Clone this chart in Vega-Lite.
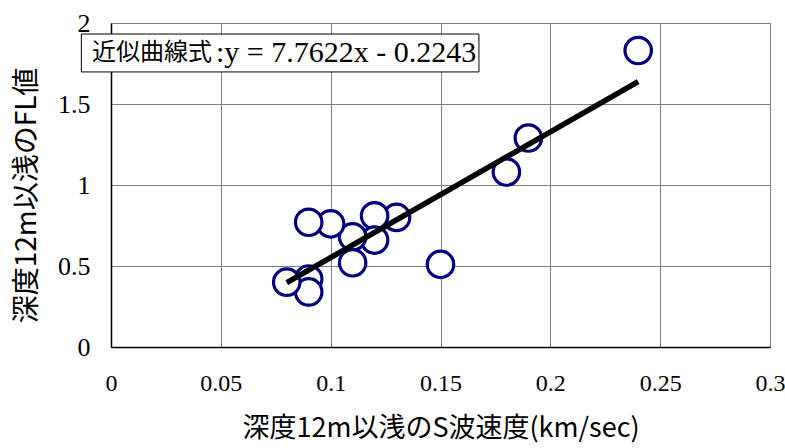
{
  "$schema": "https://vega.github.io/schema/vega-lite/v6.json",
  "width": 659,
  "height": 324,
  "autosize": "none",
  "padding": {"left": 111, "top": 23, "right": 15, "bottom": 101},
  "background": "white",
  "config": {
    "view": {"stroke": "#808080", "strokeWidth": 1},
    "axis": {
      "grid": true,
      "gridColor": "#808080",
      "gridOpacity": 1,
      "gridWidth": 1,
      "ticks": false,
      "domainColor": "#000000",
      "domainWidth": 1.5,
      "labelFont": "Liberation Serif",
      "labelFontSize": 26,
      "labelColor": "#000000",
      "labelFlush": false,
      "labelOverlap": false,
      "titleFont": "Noto Sans CJK JP",
      "titleFontWeight": "normal",
      "titleColor": "#000000"
    }
  },
  "datasets": {
    "points": [
      {"v": 0.24, "fl": 1.83},
      {"v": 0.19, "fl": 1.29},
      {"v": 0.18, "fl": 1.08},
      {"v": 0.15, "fl": 0.51},
      {"v": 0.13, "fl": 0.80},
      {"v": 0.12, "fl": 0.81},
      {"v": 0.12, "fl": 0.66},
      {"v": 0.11, "fl": 0.68},
      {"v": 0.11, "fl": 0.52},
      {"v": 0.10, "fl": 0.76},
      {"v": 0.09, "fl": 0.77},
      {"v": 0.09, "fl": 0.42},
      {"v": 0.09, "fl": 0.34},
      {"v": 0.08, "fl": 0.40}
    ],
    "fit": [
      {"v": 0.08, "fl": 0.3967},
      {"v": 0.24, "fl": 1.6386}
    ],
    "box": [
      {"v": -0.0135, "v2": 0.1675, "fl": 1.932, "fl2": 1.698}
    ],
    "cjk": [
      {"v": -0.0087, "fl": 1.815, "t": "近似曲線式"}
    ],
    "eq": [
      {"v": 0.0478, "fl": 1.815, "t": ":y = 7.7622x - 0.2243"}
    ]
  },
  "encoding": {
    "x": {
      "field": "v", "type": "quantitative",
      "scale": {"domain": [0, 0.3], "nice": false, "zero": false},
      "axis": {"values": [0, 0.05, 0.1, 0.15, 0.2, 0.25, 0.3], "format": "~g", "labelPadding": 24, "labelFontSize": 24, "title": "深度12m以浅のS波速度(km/sec)", "titleFontSize": 27, "titlePadding": 20}
    },
    "y": {
      "field": "fl", "type": "quantitative",
      "scale": {"domain": [0, 2], "nice": false, "zero": false},
      "axis": {"values": [0, 0.5, 1, 1.5, 2], "format": "~g", "labelPadding": 21, "title": "深度12m以浅のFL値", "titleFontSize": 28, "titlePadding": 16, "titleY": 172}
    }
  },
  "layer": [
    {
      "data": {"name": "points"},
      "mark": {"type": "circle", "fill": "white", "fillOpacity": 1, "opacity": 1, "stroke": "#000080", "strokeWidth": 3.2, "size": 700}
    },
    {
      "data": {"name": "fit"},
      "mark": {"type": "line", "color": "#000000", "strokeWidth": 5.5}
    },
    {
      "data": {"name": "box"},
      "mark": {"type": "rect", "fill": "white", "stroke": "#000000", "strokeWidth": 1},
      "encoding": {
        "x2": {"field": "v2"},
        "y2": {"field": "fl2"}
      }
    },
    {
      "data": {"name": "cjk"},
      "mark": {"type": "text", "font": "Noto Sans CJK JP", "fontSize": 24, "align": "left", "baseline": "middle", "color": "#000000"},
      "encoding": {"text": {"field": "t"}}
    },
    {
      "data": {"name": "eq"},
      "mark": {"type": "text", "font": "Liberation Serif", "fontSize": 30, "align": "left", "baseline": "middle", "color": "#000000"},
      "encoding": {"text": {"field": "t"}}
    }
  ]
}
